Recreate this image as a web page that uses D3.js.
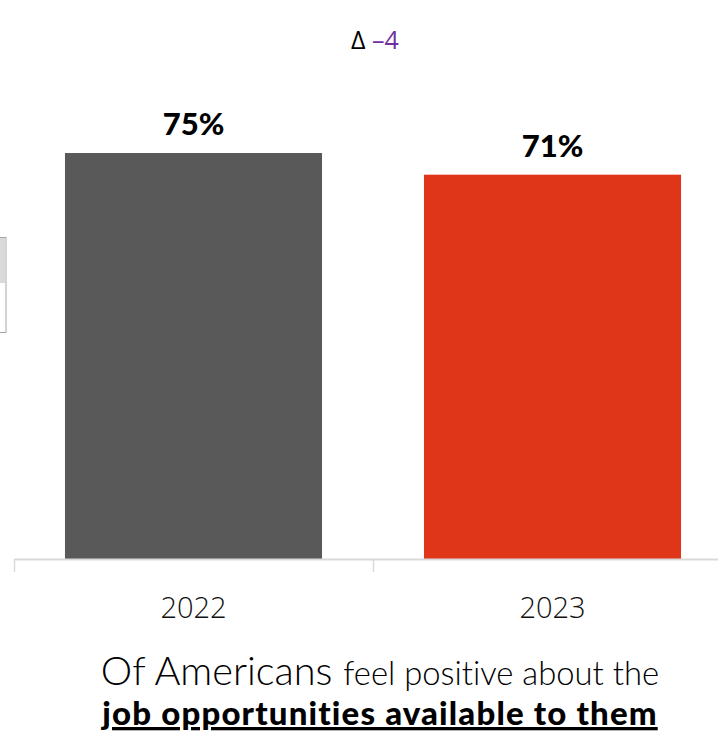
<!DOCTYPE html>
<html>
<head>
<meta charset="utf-8">
<script src="https://cdn.jsdelivr.net/npm/d3@7"></script>
<style>
  html, body { margin: 0; padding: 0; background: #fff; }
  svg { display: block; }
  text { font-variant-ligatures: none; }
</style>
</head>
<body>
<svg id="chart" width="718" height="739"></svg>
<script>
// Survey share by year
const years = ["2022", "2023"];
const values = [75, 71];
const barColors = ["#595959", "#df361a"];
const deltaLabel = "–4";

const svg = d3.select("#chart");
const W = 718, H = 739;

const x = d3.scaleBand()
  .domain(years)
  .range([14, 732])
  .paddingInner(0.284)
  .paddingOuter(0.142);

const y = d3.scaleLinear()
  .domain([0, 100])
  .range([559, 17.7]);

// partially visible side panel at the left edge
svg.append("rect").attr("x", -2).attr("y", 237.5).attr("width", 8).attr("height", 95)
  .attr("fill", "#fff").attr("stroke", "#a6a6a6").attr("stroke-width", 1);
svg.append("rect").attr("x", -2).attr("y", 238).attr("width", 7.5).attr("height", 45)
  .attr("fill", "#d9d9d9");

// bars
svg.selectAll("rect.bar")
  .data(values)
  .join("rect")
  .attr("class", "bar")
  .attr("x", (d, i) => x(years[i]))
  .attr("width", x.bandwidth())
  .attr("y", d => y(d))
  .attr("height", d => y(0) - y(d))
  .attr("fill", (d, i) => barColors[i]);

// category axis with band-edge ticks
const axisG = svg.append("g");
axisG.append("line")
  .attr("x1", 14).attr("x2", W).attr("y1", 559.5).attr("y2", 559.5)
  .attr("stroke", "#d9d9d9").attr("stroke-width", 2);
const edges = [14, 14 + (732 - 14) / 2];
axisG.selectAll("line.tick")
  .data(edges)
  .join("line")
  .attr("class", "tick")
  .attr("x1", d => d + 0.5).attr("x2", d => d + 0.5)
  .attr("y1", 559).attr("y2", 572)
  .attr("stroke", "#d9d9d9").attr("stroke-width", 1.5);

axisG.selectAll("text.year")
  .data(years)
  .join("text")
  .attr("class", "year")
  .attr("x", d => x(d) + x.bandwidth() / 2)
  .attr("y", 618)
  .attr("text-anchor", "middle")
  .attr("font-family", "Open Sans, sans-serif")
  .attr("font-weight", 300)
  .attr("font-size", 29)
  .attr("fill", "#111")
  .text(d => d);

// value labels
svg.selectAll("text.val")
  .data(values)
  .join("text")
  .attr("class", "val")
  .attr("x", (d, i) => x(years[i]) + x.bandwidth() / 2)
  .attr("y", d => y(d) - 18)
  .attr("text-anchor", "middle")
  .attr("font-family", "Lato, sans-serif")
  .attr("font-weight", 900)
  .attr("font-size", 31)
  .attr("fill", "#000")
  .text(d => d + "%");

// change annotation
const delta = svg.append("text")
  .attr("x", 375).attr("y", 49)
  .attr("text-anchor", "middle")
  .attr("font-family", "Open Sans, sans-serif")
  .attr("font-size", 25);
delta.append("tspan").attr("fill", "#000").text("Δ ");
delta.append("tspan").attr("fill", "#7030a0").text(deltaLabel);

// caption
const cap1 = svg.append("text")
  .attr("x", 380).attr("y", 685)
  .attr("text-anchor", "middle")
  .attr("font-family", "Lato, sans-serif")
  .attr("font-weight", 300)
  .attr("fill", "#000");
cap1.append("tspan").attr("font-size", 39.7).text("Of Americans ");
cap1.append("tspan").attr("font-size", 32.8).text("feel positive about the");

svg.append("text")
  .attr("x", 380).attr("y", 725)
  .attr("text-anchor", "middle")
  .attr("font-family", "Lato, sans-serif")
  .attr("font-weight", 900)
  .attr("font-size", 33)
  .attr("letter-spacing", 1.15)
  .attr("text-decoration", "underline")
  .attr("fill", "#000")
  .text("job opportunities available to them");
</script>
</body>
</html>
